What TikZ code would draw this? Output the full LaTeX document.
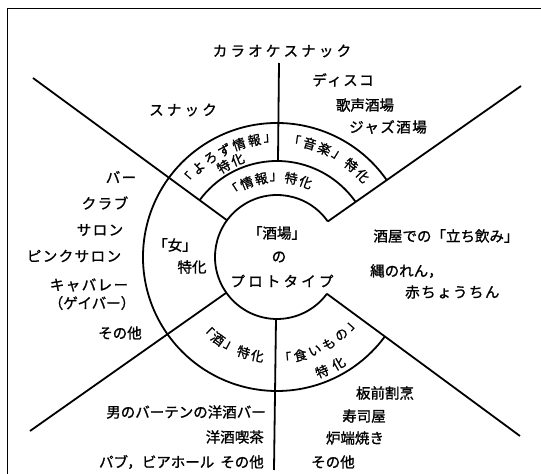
\documentclass[tikz,border=0pt]{standalone}
\usepackage{fontspec}
\newfontfamily\jp[FakeBold=1.2]{Noto Sans CJK JP}
\newfontfamily\jpw[LetterSpace=10,FakeBold=1.2]{Noto Sans CJK JP}
\newfontfamily\jpww[LetterSpace=22,FakeBold=1.2]{Noto Sans CJK JP}
\tikzset{
  frameline/.style={line width=1pt, black},
  mainline/.style={line width=1.8pt, black},
  lbl/.style={inner sep=0pt, font=\jp\fontsize{14.5}{17}\selectfont},
  lblw/.style={inner sep=0pt, font=\jpw\fontsize{14.5}{17}\selectfont},
  lblww/.style={inner sep=0pt, font=\jpww\fontsize{14.5}{17}\selectfont},
  arcchar/.style={inner sep=0pt, font=\jp\fontsize{13}{15}\selectfont},
}
% #1 name, #2 radius, #3 start angle, #4 step, #5 rotation offset, #6 chars
\newcommand\arcchars[6]{%
  \foreach \ch [count=\k] in {#6} {%
    \pgfmathsetmacro\ang{#3+(\k-1)*(#4)}%
    \node[arcchar, rotate=\ang+#5] (#1-\k) at (\ang:#2) {\ch};
  }}
\begin{document}
\begin{tikzpicture}[x=1pt,y=1pt]
\useasboundingbox (-277,-217) rectangle (264,257);
% frame
\coordinate (fb) at (-269,-217);
\coordinate (ftl) at (-269,248);
\coordinate (ftr) at (264,248);
\draw[frameline] (fb) -- (ftl) -- (ftr);
% circles
\coordinate (C) at (0,0);
\draw[mainline] (35:62) arc[start angle=35, end angle=323.6, radius=62];
\draw[mainline] (35:96) arc[start angle=35, end angle=143.7, radius=96];
\draw[mainline] (35:134) arc[start angle=35, end angle=323.6, radius=134];
% radial lines
\coordinate (ul) at (-244,179);
\coordinate (ur) at (244,171);
\coordinate (ll) at (-247,-174);
\coordinate (lr) at (243,-179);
\draw[mainline] (143.7:62) -- (ul);
\draw[mainline] (35:62) -- (ur);
\draw[mainline] (215.2:62) -- (ll);
\draw[mainline] (323.6:62) -- (lr);
% vertical lines
\coordinate (vt1) at (1,96);
\coordinate (vt2) at (2,194);
\coordinate (vb1) at (-1,-62);
\coordinate (vb2) at (-3,-213);
\draw[mainline] (vt1) -- (vt2);
\draw[mainline] (vb1) -- (vb2);
% centre
\node[lbl] (sakaba) at (0,24) {「酒場」};
\node[lbl] (no) at (2,0) {の};
\node[lblww] (proto) at (5,-24) {プロトタイプ};
% arc labels
\arcchars{yorozu}{119}{139}{-7.6}{-90}{「,よ,ろ,ず,情,報,」}
\arcchars{yorozutk}{105}{120.5}{-8.5}{-90}{特,化}
\arcchars{ongaku}{118}{81.5}{-7.6}{-90}{「,音,楽,」,特,化}
\arcchars{joho}{80}{123}{-10.8}{-90}{「,情,報,」,特,化}
\arcchars{sake}{101}{226}{8.2}{90}{「,酒,」,特,化}
\arcchars{kuimono}{101}{274.5}{8.8}{90}{「,食,い,も,の,」}
\arcchars{kuimonotk}{123}{291.5}{8.5}{90}{特,化}
\node[lbl] (onna) at (-102,12) {「女」};
\node[lbl] (onnatk) at (-85,-10) {特化};
% top
\node[lblww] (karaoke) at (5,206) {カラオケスナック};
\node[lblw] (disco) at (66,177) {ディスコ};
\node[lbl] (kasei) at (88,152) {歌声酒場};
\node[lblw] (jazz) at (111,130) {ジャズ酒場};
\node[lblww] (snack) at (-94,147) {スナック};
% left
\node[lblw] (bar) at (-156,80) {バー};
\node[lblw] (club) at (-172,54) {クラブ};
\node[lblw] (salon) at (-177,27) {サロン};
\node[lblw] (pink) at (-203,1) {ピンクサロン};
\node[lblw] (cabaret) at (-188,-28) {キャバレー};
\node[lbl] (gay) at (-185,-46) {（ゲイバー）};
\node[lbl] (sonota1) at (-157,-76) {その他};
% right
\node[lbl] (tachinomi) at (169,21) {酒屋での「立ち飲み」};
\node[lbl, anchor=west] (nawa) at (93,-14) {縄のれん，};
\node[lblw, anchor=west] (aka) at (128,-35) {赤ちょうちん};
% bottom left
\node[lbl, anchor=east] (otoko) at (-11,-155) {男のバーテンの洋酒バー};
\node[lbl, anchor=east] (yoshu) at (-13,-180) {洋酒喫茶};
\node[lbl, anchor=east] (pub) at (-13,-205) {パブ，ビアホール\hspace{6pt}その他};
% bottom right
\node[lbl] (itamae) at (108,-136) {板前割烹};
\node[lbl] (sushi) at (87,-159) {寿司屋};
\node[lbl] (robata) at (78,-181) {炉端焼き};
\node[lbl] (sonota2) at (56,-205) {その他};
\end{tikzpicture}
\end{document}
